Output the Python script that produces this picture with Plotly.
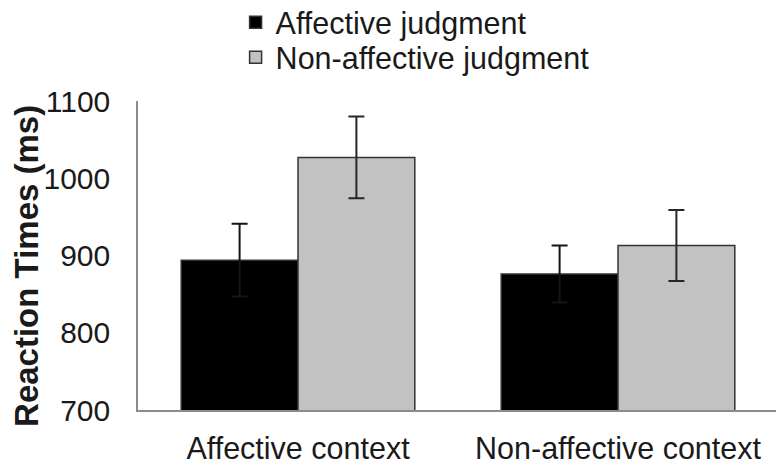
import plotly.graph_objects as go

categories = ["Affective context", "Non-affective context"]
series_names = ["Affective judgment", "Non-affective judgment"]
affective_rt = [894, 876]
affective_err = [47, 37]
nonaffective_rt = [1027, 913]
nonaffective_err = [53, 46]
y_ticks = [700, 800, 900, 1000, 1100]
y_title = "Reaction Times (ms)"

FONT = "Liberation Sans, Arial, sans-serif"
TXT = "#1a1a1a"

fig = go.Figure()
fig.add_trace(go.Bar(
    x=categories, y=affective_rt, name=series_names[0], legend="legend",
    marker=dict(color="#000000", line=dict(color="#333333", width=1.5)),
    error_y=dict(type="data", array=affective_err, color="#141414", thickness=2, width=8),
))
fig.add_trace(go.Bar(
    x=categories, y=nonaffective_rt, name=series_names[1], legend="legend2",
    marker=dict(color="#c2c2c2", line=dict(color="#333333", width=1.5)),
    error_y=dict(type="data", array=nonaffective_err, color="#262626", thickness=2, width=8),
))

legend_style = dict(xref="paper", yref="paper", xanchor="left", yanchor="top",
                    font=dict(size=30.5, family=FONT, color=TXT),
                    bgcolor="rgba(0,0,0,0)")

# the page body has an 8px margin, so the figure is laid out 8px up/left
fig.update_layout(
    width=784, height=466,
    margin=dict(l=130, r=14, t=93, b=64, autoexpand=False),
    paper_bgcolor="white", plot_bgcolor="white",
    barmode="group", bargap=0.27, bargroupgap=0,
    font=dict(family=FONT, color=TXT, size=30),
    showlegend=True,
    legend=dict(x=0.1525, y=1.340, **legend_style),
    legend2=dict(x=0.1525, y=1.2265, **legend_style),
    annotations=[dict(
        text="<b>" + y_title + "</b>", textangle=-90,
        xref="paper", x=-0.174, xanchor="center",
        yref="paper", y=0.465, yanchor="middle",
        showarrow=False, font=dict(size=33, family=FONT, color=TXT),
    )],
)
fig.update_xaxes(
    showline=True, linecolor="#8c8c8c", linewidth=1.5, showgrid=False,
    ticks="", automargin=False, ticklabelstandoff=11,
    tickfont=dict(size=30.5, family=FONT, color=TXT),
)
fig.update_yaxes(
    range=[700, 1100], tickvals=y_ticks, showline=True, linecolor="#8c8c8c",
    linewidth=1.5, showgrid=False, ticks="", zeroline=False, automargin=False,
    tickfont=dict(size=30, family=FONT, color=TXT), ticklabelstandoff=20,
)

fig.write_html("out.html")
